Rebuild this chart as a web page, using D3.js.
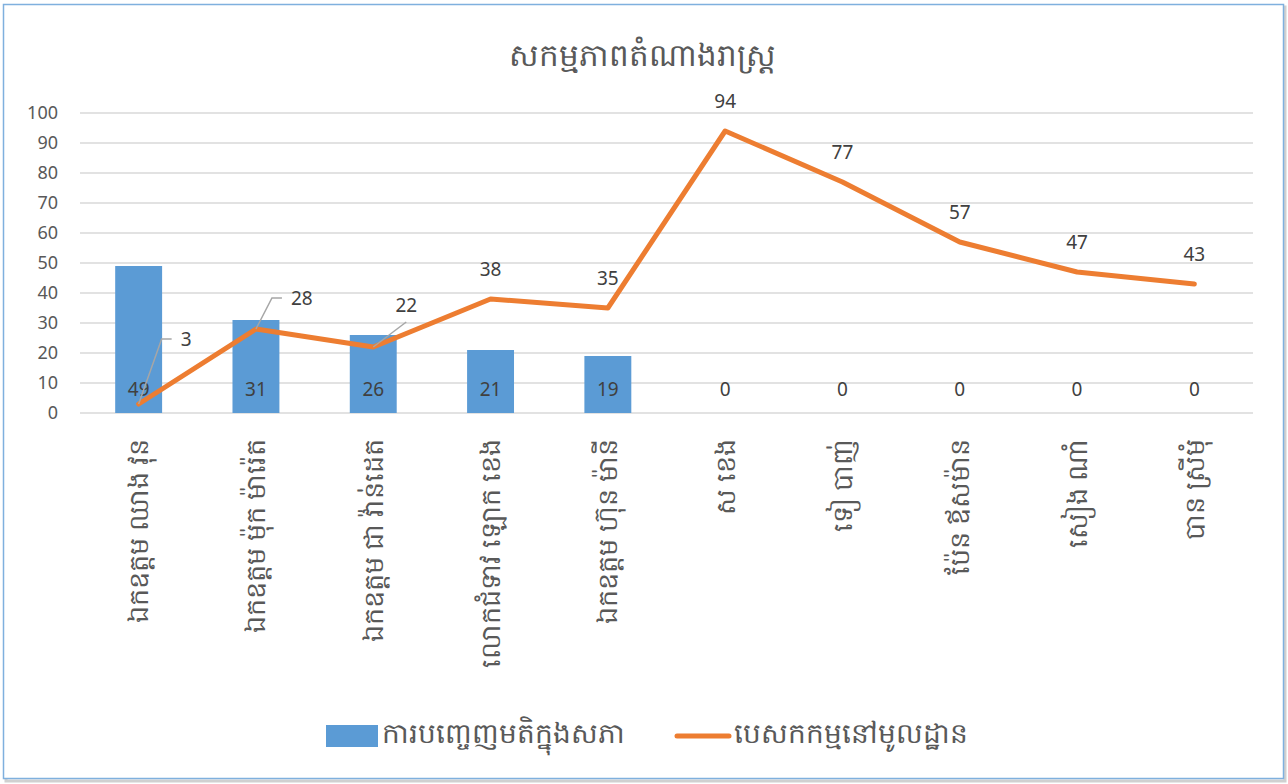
<!DOCTYPE html>
<html>
<head>
<meta charset="utf-8">
<script src="https://cdn.jsdelivr.net/npm/d3@7"></script>
<style>
  body { margin: 0; background: #fff; }
  text { font-family: "Noto Sans", "Liberation Sans", sans-serif; fill: #595959; }
</style>
</head>
<body>
<div id="chart"></div>
<script>
// data
var categories = ["ឯកឧត្តម ឈាង វុន", "ឯកឧត្តម ម៉ុក ម៉ារ៉េត", "ឯកឧត្តម ជា វ៉ាន់ដេត", "លោកជំទាវ ឡោក ខេង",
  "ឯកឧត្តម ហ៊ុន ម៉ានី", "ស ខេង", "ទៀ បាញ់", "ប៉ែន ឪសម៉ាន", "សៀង ណាំ", "បាន ស្រីមុំ"];
var speechValues = [49, 31, 26, 21, 19, 0, 0, 0, 0, 0];
var missionValues = [3, 28, 22, 38, 35, 94, 77, 57, 47, 43];
var yTicks = [0, 10, 20, 30, 40, 50, 60, 70, 80, 90, 100];
var titleText = "សកម្មភាពតំណាងរាស្ត្រ";
var seriesNames = ["ការបញ្ចេញមតិក្នុងសភា", "បេសកកម្មនៅមូលដ្ឋាន"];

var W = 1288, H = 784;
var margin = {top: 113, right: 35, bottom: 371, left: 80},
  width = W - margin.left - margin.right,
  height = H - margin.top - margin.bottom;

var svg = d3.select("#chart").append("svg")
  .attr("width", W)
  .attr("height", H);

// chart frame
svg.append("rect")
  .attr("x", 6).attr("y", 7).attr("width", W - 9).attr("height", H - 10)
  .attr("fill", "none").attr("stroke", "#d0d0d0").attr("stroke-width", 3);
svg.append("rect")
  .attr("x", 3.5).attr("y", 4.5).attr("width", W - 8).attr("height", H - 10)
  .attr("fill", "#fff").attr("stroke", "#7fb0de").attr("stroke-width", 1.5);

svg.append("text")
  .attr("x", 642).attr("y", 66)
  .style("text-anchor", "middle")
  .style("font-size", "31px")
  .text(titleText);

var g = svg.append("g")
  .attr("transform", "translate(" + margin.left + "," + margin.top + ")");

var x = d3.scaleBand()
  .domain(categories)
  .range([0, width])
  .paddingInner(0.6)
  .paddingOuter(0.3);
var xc = function (d) { return x(d) + x.bandwidth() / 2; };
var y = d3.scaleLinear()
  .domain([0, 100])
  .range([height, 0]);

// gridlines
g.selectAll(".grid")
  .data(yTicks)
  .enter().append("line")
  .attr("x1", 0).attr("x2", width)
  .attr("y1", function (d) { return y(d); })
  .attr("y2", function (d) { return y(d); })
  .attr("stroke", "#d9d9d9").attr("stroke-width", 1.5);

var yAxis = g.append("g")
  .call(d3.axisLeft(y).tickValues(yTicks).tickSize(0).tickPadding(22));
yAxis.select(".domain").remove();
yAxis.selectAll("text")
  .style("font-size", "18px")
  .style("font-family", "Noto Sans, sans-serif")
  .style("fill", "#595959");

var xAxis = g.append("g")
  .attr("transform", "translate(0," + height + ")")
  .call(d3.axisBottom(x).tickSize(0));
xAxis.select(".domain").remove();
xAxis.selectAll("text")
  .style("text-anchor", "end")
  .style("font-size", "27px")
  .style("fill", "#595959")
  .attr("transform", "rotate(-90)")
  .attr("x", -26)
  .attr("y", 0)
  .attr("dy", "0.35em");

// bars
g.selectAll(".bar")
  .data(speechValues)
  .enter().append("rect")
  .attr("class", "bar")
  .attr("x", function (d, i) { return x(categories[i]); })
  .attr("width", x.bandwidth())
  .attr("y", function (d) { return y(d); })
  .attr("height", function (d) { return height - y(d); })
  .attr("fill", "#5b9bd5");

g.selectAll(".barlabel")
  .data(speechValues)
  .enter().append("text")
  .attr("x", function (d, i) { return xc(categories[i]); })
  .attr("y", height - 17)
  .style("text-anchor", "middle")
  .style("font-size", "19px")
  .style("fill", "#404040")
  .text(function (d) { return d; });

// line
var line = d3.line()
  .x(function (d, i) { return xc(categories[i]); })
  .y(function (d) { return y(d); });
g.append("path")
  .datum(missionValues)
  .attr("d", line)
  .attr("fill", "none")
  .attr("stroke", "#ed7d31")
  .attr("stroke-width", 5)
  .attr("stroke-linejoin", "round")
  .attr("stroke-linecap", "round");

// line labels, first three pulled out with leader lines like the original
var offsets = [
  {dx: 49, dy: -65},
  {dx: 42, dy: -31},
  {dx: 33, dy: -35}
];
missionValues.forEach(function (d, i) {
  var px = xc(categories[i]), py = y(d);
  var o = offsets[i];
  if (o && i < 2) {
    g.append("polyline")
      .attr("points", [px, py, px + o.dx - 26, py + o.dy, px + o.dx - 16, py + o.dy].join(","))
      .attr("fill", "none").attr("stroke", "#a6a6a6").attr("stroke-width", 1.5);
    g.append("text")
      .attr("x", px + o.dx - 7).attr("y", py + o.dy + 7)
      .style("font-size", "19px").style("fill", "#404040")
      .text(d);
  } else if (o) {
    g.append("line")
      .attr("x1", px).attr("y1", py).attr("x2", px + o.dx).attr("y2", py - 25)
      .attr("stroke", "#a6a6a6").attr("stroke-width", 1.5);
    g.append("text")
      .attr("x", px + o.dx).attr("y", py + o.dy)
      .style("text-anchor", "middle")
      .style("font-size", "19px").style("fill", "#404040")
      .text(d);
  } else {
    g.append("text")
      .attr("x", px).attr("y", py - 23)
      .style("text-anchor", "middle")
      .style("font-size", "19px").style("fill", "#404040")
      .text(d);
  }
});

// legend
var legend = svg.append("g");
legend.append("rect")
  .attr("x", 326).attr("y", 725).attr("width", 52).attr("height", 22)
  .attr("fill", "#5b9bd5");
legend.append("text")
  .attr("x", 382).attr("y", 743)
  .style("font-size", "28px")
  .text(seriesNames[0]);
legend.append("line")
  .attr("x1", 677).attr("x2", 729).attr("y1", 736).attr("y2", 736)
  .attr("stroke", "#ed7d31").attr("stroke-width", 5).attr("stroke-linecap", "round");
legend.append("text")
  .attr("x", 734).attr("y", 743)
  .style("font-size", "28px")
  .text(seriesNames[1]);
</script>
</body>
</html>
